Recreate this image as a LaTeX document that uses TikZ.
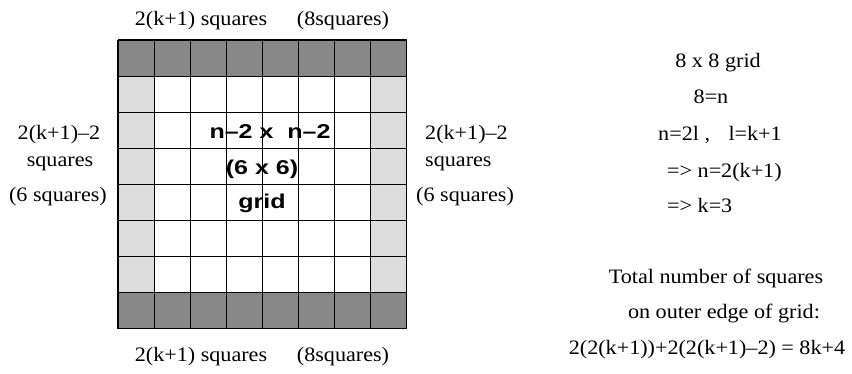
\documentclass[tikz,border=0pt]{standalone}
\usepackage{fontspec}
\setmainfont[FakeStretch=1.08]{Liberation Serif}
\setsansfont[FakeStretch=1.25]{Liberation Sans}
\usetikzlibrary{positioning}
\definecolor{edgeDark}{HTML}{888888}
\definecolor{edgeLight}{HTML}{DCDCDC}
\tikzset{
  lbl/.style={inner sep=0pt, anchor=base, font=\fontsize{20.5}{24}\selectfont},
  lblw/.style={lbl, anchor=base west},
  gridlbl/.style={inner sep=0pt, anchor=base, font=\fontsize{20}{24}\selectfont\sffamily\bfseries},
  cellline/.style={draw=black, line width=1.1pt},
}
\begin{document}
\begin{tikzpicture}[x=1pt, y=-1pt]
\useasboundingbox (0,0) rectangle (852,373);
% outer ring of the 8 x 8 grid
\fill[edgeDark] (118,40) rectangle (406.8,76.1);
\fill[edgeDark] (118,292.7) rectangle (406.8,328.8);
\fill[edgeLight] (118,76.1) rectangle (154.1,292.7);
\fill[edgeLight] (370.7,76.1) rectangle (406.8,292.7);
\foreach \i in {0,...,8} {
  \draw[cellline] (118+\i*36.1,40) -- ++(0,288.8);
  \draw[cellline] (118,40+\i*36.1) -- ++(288.8,0);
}
% labels round the grid
\node[lbl] (topA) at (201,25) {2(k+1) squares};
\node[lbl] (topB) at (343,25) {(8squares)};
\node[lbl] (botA) at (201,361) {2(k+1) squares};
\node[lbl] (botB) at (343,361) {(8squares)};
\node[lbl] (leftA) at (59,139) {2(k+1)--2};
\node[lbl] (leftB) at (60,166) {squares};
\node[lbl] (leftC) at (58,201) {(6 squares)};
\node[lblw] (rightA) at (425,139) {2(k+1)--2};
\node[lblw] (rightB) at (425,166) {squares};
\node[lblw] (rightC) at (416,201) {(6 squares)};
% inner grid
\node[gridlbl] (innerA) at (270,138) {n--2 x\ \ n--2};
\node[gridlbl] (innerB) at (262,174) {(6 x 6)};
\node[gridlbl] (innerC) at (262,208) {grid};
% working on the right
\node[lbl] (sizeA) at (718,67) {8 x 8 grid};
\node[lbl] (sizeB) at (711,103) {8=n};
\node[lbl] (sizeC) at (720,140) {n=2l ,\hspace{0.9em}l=k+1};
\node[lblw] (sizeD) at (667,177) {=> n=2(k+1)};
\node[lblw] (sizeE) at (667,212) {=> k=3};
\node[lbl] (totalA) at (716,283) {Total number of squares};
\node[lbl] (totalB) at (724,318) {on outer edge of grid:};
\node[lbl] (totalC) at (707,354) {2(2(k+1))+2(2(k+1)--2) = 8k+4};
\end{tikzpicture}
\end{document}
